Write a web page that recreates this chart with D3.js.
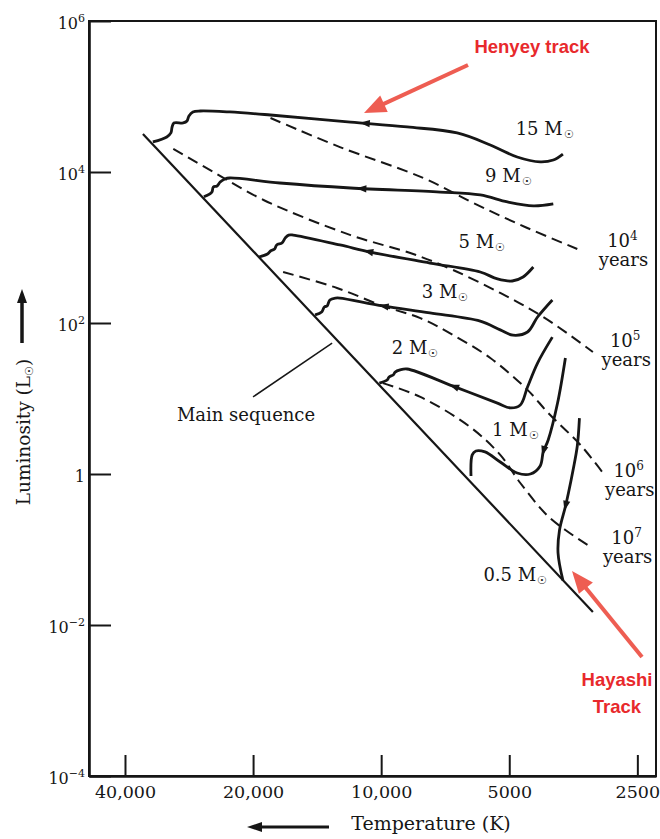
<!DOCTYPE html>
<html>
<head>
<meta charset="utf-8">
<script src="https://cdn.jsdelivr.net/npm/d3@7"></script>
<style>
  html, body { margin: 0; padding: 0; background: #fff; }
  svg { display: block; }
</style>
</head>
<body>
<div id="chart"></div>
<script>
// axes
const tempDomain = [48600, 2260];
const lumDomain = [1e-4, 1e6];
const tempTicks = [40000, 20000, 10000, 5000, 2500];
const tempTickLabels = ["40,000", "20,000", "10,000", "5000", "2500"];
const lumTicks = [1e6, 1e4, 1e2, 1, 1e-2, 1e-4];
const lumTickExp = ["6", "4", "2", null, "\u22122", "\u22124"];

// zero age main sequence, [T (K), L (Lsun)]
const mainSequence = [[36300, 31900], [3180, 0.0149]];

// pre-main-sequence tracks, points in evolutionary order
const track15 = [[3740, 17300], [3940, 14400], [4230, 13600], [4790, 15800], [5540, 22800],
  [6630, 32900], [8690, 39500], [11800, 45900], [18200, 56900], [22700, 62400], [26600, 64300],
  [27700, 62400], [28300, 55200], [28600, 47300], [29200, 44600], [30700, 44600], [31000, 39500],
  [31200, 32900], [31900, 29100], [34400, 25000]];
const track9 = [[3940, 3770], [4390, 3550], [5050, 4010], [5850, 4960], [7270, 5430],
  [11800, 6140], [17300, 7150], [22700, 8330], [23300, 8080], [23900, 7380], [24300, 6530],
  [24800, 6330], [25000, 5430], [26100, 4700]];
const track5 = [[4390, 552], [4640, 407], [4920, 360], [5330, 383], [5850, 474], [7680, 623],
  [10600, 871], [12500, 1080], [16100, 1460], [16500, 1460], [16800, 1340], [17100, 1150],
  [17600, 1080], [17800, 955], [18200, 899], [18500, 820], [19400, 748]];
const track3 = [[3960, 202], [4290, 120], [4530, 76], [4900, 69], [5250, 81], [5850, 106],
  [7680, 136], [9910, 168], [12500, 214], [12800, 214], [13200, 202], [13400, 168],
  [13600, 163], [13800, 140], [14300, 128]];
const track2 = [[3960, 65], [4290, 29.5], [4530, 14.2], [4710, 8.2], [4970, 7.5], [5330, 8.7],
  [6780, 14.6], [8690, 24.6], [9030, 23.9], [9270, 22.4], [9370, 20.5], [9580, 19.3],
  [9680, 17.6], [10100, 16.0]];
const track1 = [[3690, 34.4], [3850, 8.7], [4050, 2.82], [4160, 1.96], [4230, 1.28], [4460, 1.0],
  [4790, 1.03], [5250, 1.44], [5700, 1.96], [5990, 2.02], [6110, 1.79], [6150, 0.94]];
const track05 = [[3420, 5.5], [3460, 2.35], [3540, 1.13], [3630, 0.56], [3690, 0.37],
  [3810, 0.18], [3840, 0.09], [3740, 0.039]];

// where the direction arrow sits on each track
const trackArrows = [[11000, 44600], [11200, 5960], [10800, 871], [9910, 168], [6780, 14.6], [4160, 1.96], [3690, 0.366]];
const massNames = ["15", "9", "5", "3", "2", "1", "0.5"];
const massLabelAt = [[4830, 30900], [5700, 7440], [6580, 976], [8030, 212], [9440, 38.9], [5490, 3.19], [5750, 0.0386]];

// isochrones (dashed)
const iso4 = [[18200, 51900], [12500, 21400], [7960, 8330], [6070, 3880], [4590, 1870], [3460, 955]];
const iso5 = [[30800, 20200], [24800, 10000], [18900, 4260], [11800, 1460], [8410, 820], [6780, 504],
  [5250, 250], [4120, 116], [3180, 41.3]];
const iso6 = [[17000, 474], [12700, 291], [9910, 168], [8090, 116], [6780, 69.3], [5540, 34.4],
  [4530, 13.0], [4050, 6.43], [3400, 2.42], [3010, 1.03]];
const iso7 = [[9910, 16.0], [8090, 10.5], [6180, 4.2], [5250, 1.79], [4710, 0.76], [4080, 0.286],
  [3690, 0.181], [3220, 0.108]];
const isoExp = ["4", "5", "6", "7"];
const isoLabelAt = [[2710, 985], [2670, 46.6], [2620, 0.885], [2650, 0.115]];

const msLeader = [[20000, 10.5], [13040, 54.3]];
const msLabelAt = [20780, 5.03];

const W = 660, H = 839;
const plot = { left: 89, right: 656, top: 21, bottom: 776 };
const ink = "#161616";
const red = "#e8292c", salmon = "#ee5d52";

const svg = d3.select("#chart").append("svg")
  .attr("width", W).attr("height", H)
  .style("background", "#fff");

const x = d3.scaleLog().domain(tempDomain).range([plot.left, plot.right]);
const y = d3.scaleLog().domain(lumDomain).range([plot.bottom, plot.top]);

// frame
svg.append("rect")
  .attr("x", plot.left).attr("y", plot.top)
  .attr("width", plot.right - plot.left).attr("height", plot.bottom - plot.top)
  .attr("fill", "none").attr("stroke", ink).attr("stroke-width", 2);

const xAxis = svg.append("g")
  .attr("transform", `translate(0,${plot.bottom})`)
  .call(d3.axisBottom(x).tickValues(tempTicks).tickFormat((d, i) => tempTickLabels[i])
    .tickSize(-21).tickSizeOuter(0).tickPadding(10));
xAxis.selectAll("text").attr("font-family", "'DejaVu Serif', serif").attr("font-size", 17.5).attr("fill", ink);

const yAxis = svg.append("g")
  .attr("transform", `translate(${plot.left},0)`)
  .call(d3.axisLeft(y).tickValues(lumTicks).tickSize(-22).tickSizeOuter(0).tickPadding(4));
yAxis.selectAll(".tick text").each(function (d, i) {
  const t = d3.select(this).text(null)
    .attr("font-family", "'DejaVu Serif', serif").attr("font-size", 16).attr("fill", ink)
    .attr("dy", "0.45em");
  if (lumTickExp[i] === null) { t.text("1"); return; }
  t.append("tspan").text("10");
  t.append("tspan").attr("dy", "-0.6em").attr("font-size", 11).text(lumTickExp[i]);
});
[xAxis, yAxis].forEach(g => {
  g.select(".domain").attr("stroke", ink).attr("stroke-width", 2.6);
  g.selectAll(".tick line").attr("stroke", ink).attr("stroke-width", 2);
});

const curved = d3.line().x(d => x(d[0])).y(d => y(d[1])).curve(d3.curveCatmullRom.alpha(0.5));
const straight = d3.line().x(d => x(d[0])).y(d => y(d[1]));

// main sequence
svg.append("path").attr("d", straight(mainSequence))
  .attr("fill", "none").attr("stroke", ink).attr("stroke-width", 2.2);
svg.append("path").attr("d", straight(msLeader))
  .attr("fill", "none").attr("stroke", ink).attr("stroke-width", 1.5);
svg.append("text")
  .attr("x", x(msLabelAt[0])).attr("y", y(msLabelAt[1]))
  .attr("text-anchor", "middle")
  .attr("font-family", "'DejaVu Serif', serif").attr("font-size", 18).attr("fill", ink)
  .text("Main sequence");

// isochrones
const isochrones = [iso4, iso5, iso6, iso7];
isochrones.forEach((pts, i) => {
  svg.append("path").attr("d", curved(pts))
    .attr("fill", "none").attr("stroke", ink).attr("stroke-width", 2)
    .attr("stroke-dasharray", "11,6");
  const lx = x(isoLabelAt[i][0]), ly = y(isoLabelAt[i][1]);
  const t = svg.append("text").attr("x", lx).attr("y", ly - 1).attr("text-anchor", "middle")
    .attr("font-family", "'DejaVu Serif', serif").attr("font-size", 18).attr("fill", ink);
  t.append("tspan").text("10");
  t.append("tspan").attr("dy", "-0.55em").attr("font-size", 12).text(isoExp[i]);
  svg.append("text").attr("x", lx + 1).attr("y", ly + 18).attr("text-anchor", "middle")
    .attr("font-family", "'DejaVu Serif', serif").attr("font-size", 18).attr("fill", ink)
    .text("years");
});

// tracks
const tracks = [track15, track9, track5, track3, track2, track1, track05];
tracks.forEach((pts, i) => {
  const p = svg.append("path").attr("d", curved(pts))
    .attr("fill", "none").attr("stroke", ink).attr("stroke-width", 2.8)
    .attr("stroke-linejoin", "round");
  const node = p.node();
  const len = node.getTotalLength();
  const ax = x(trackArrows[i][0]), ay = y(trackArrows[i][1]);
  let best = 0, bestD = Infinity;
  for (let l = 0; l <= len; l += 0.5) {
    const q = node.getPointAtLength(l);
    const dd = (q.x - ax) ** 2 + (q.y - ay) ** 2;
    if (dd < bestD) { bestD = dd; best = l; }
  }
  const a = node.getPointAtLength(Math.max(0, best - 3));
  const b = node.getPointAtLength(Math.min(len, best + 3));
  const c = node.getPointAtLength(best);
  const ang = Math.atan2(b.y - a.y, b.x - a.x) * 180 / Math.PI;
  svg.append("path").attr("d", "M4,0 L-6,-3.6 L-6,3.6 Z")
    .attr("transform", `translate(${c.x},${c.y}) rotate(${ang})`)
    .attr("fill", ink);

  const t = svg.append("text")
    .attr("x", x(massLabelAt[i][0])).attr("y", y(massLabelAt[i][1]))
    .attr("font-family", "'DejaVu Serif', serif").attr("font-size", 18).attr("fill", ink);
  t.append("tspan").text(massNames[i] + " M");
  t.append("tspan").attr("dx", 1).attr("dy", 3).attr("font-size", 11).text("\u2609");
});

// plain arrows drawn as shaft + head
function arrow(x1, y1, x2, y2, color, width, headLen, headW) {
  const ang = Math.atan2(y2 - y1, x2 - x1);
  const ux = Math.cos(ang), uy = Math.sin(ang);
  svg.append("line")
    .attr("x1", x1).attr("y1", y1)
    .attr("x2", x2 - ux * (headLen - 2)).attr("y2", y2 - uy * (headLen - 2))
    .attr("stroke", color).attr("stroke-width", width);
  const bx = x2 - ux * headLen, by = y2 - uy * headLen;
  svg.append("path")
    .attr("d", `M${x2},${y2} L${bx - uy * headW / 2},${by + ux * headW / 2} L${bx + uy * headW / 2},${by - ux * headW / 2} Z`)
    .attr("fill", color);
}

// axis titles
svg.append("text")
  .attr("x", 431).attr("y", 830).attr("text-anchor", "middle")
  .attr("font-family", "'DejaVu Serif', serif").attr("font-size", 19).attr("fill", ink)
  .text("Temperature (K)");
arrow(329, 827, 247, 827, ink, 3, 15, 10);

const yt = svg.append("text")
  .attr("transform", "translate(30,432) rotate(-90)").attr("text-anchor", "middle")
  .attr("font-family", "'DejaVu Serif', serif").attr("font-size", 18.5).attr("fill", ink);
yt.append("tspan").text("Luminosity (L");
yt.append("tspan").attr("dy", 3).attr("font-size", 11).text("\u2609");
yt.append("tspan").attr("dy", -3).text(")");
arrow(22, 343, 22, 289, ink, 3.5, 14, 10);

// red call-outs
svg.append("text")
  .attr("x", 532).attr("y", 53).attr("text-anchor", "middle")
  .attr("font-family", "'Liberation Sans', Arial, sans-serif").attr("font-weight", "bold")
  .attr("font-size", 18.5).attr("fill", red)
  .text("Henyey track");
arrow(468, 65, 364, 113, salmon, 4, 22, 18);

svg.append("text")
  .attr("x", 617).attr("y", 686).attr("text-anchor", "middle")
  .attr("font-family", "'Liberation Sans', Arial, sans-serif").attr("font-weight", "bold")
  .attr("font-size", 18.5).attr("fill", red)
  .text("Hayashi");
svg.append("text")
  .attr("x", 617).attr("y", 713).attr("text-anchor", "middle")
  .attr("font-family", "'Liberation Sans', Arial, sans-serif").attr("font-weight", "bold")
  .attr("font-size", 18.5).attr("fill", red)
  .text("Track");
arrow(642, 657, 572, 571, salmon, 4, 22, 18);
</script>
</body>
</html>
